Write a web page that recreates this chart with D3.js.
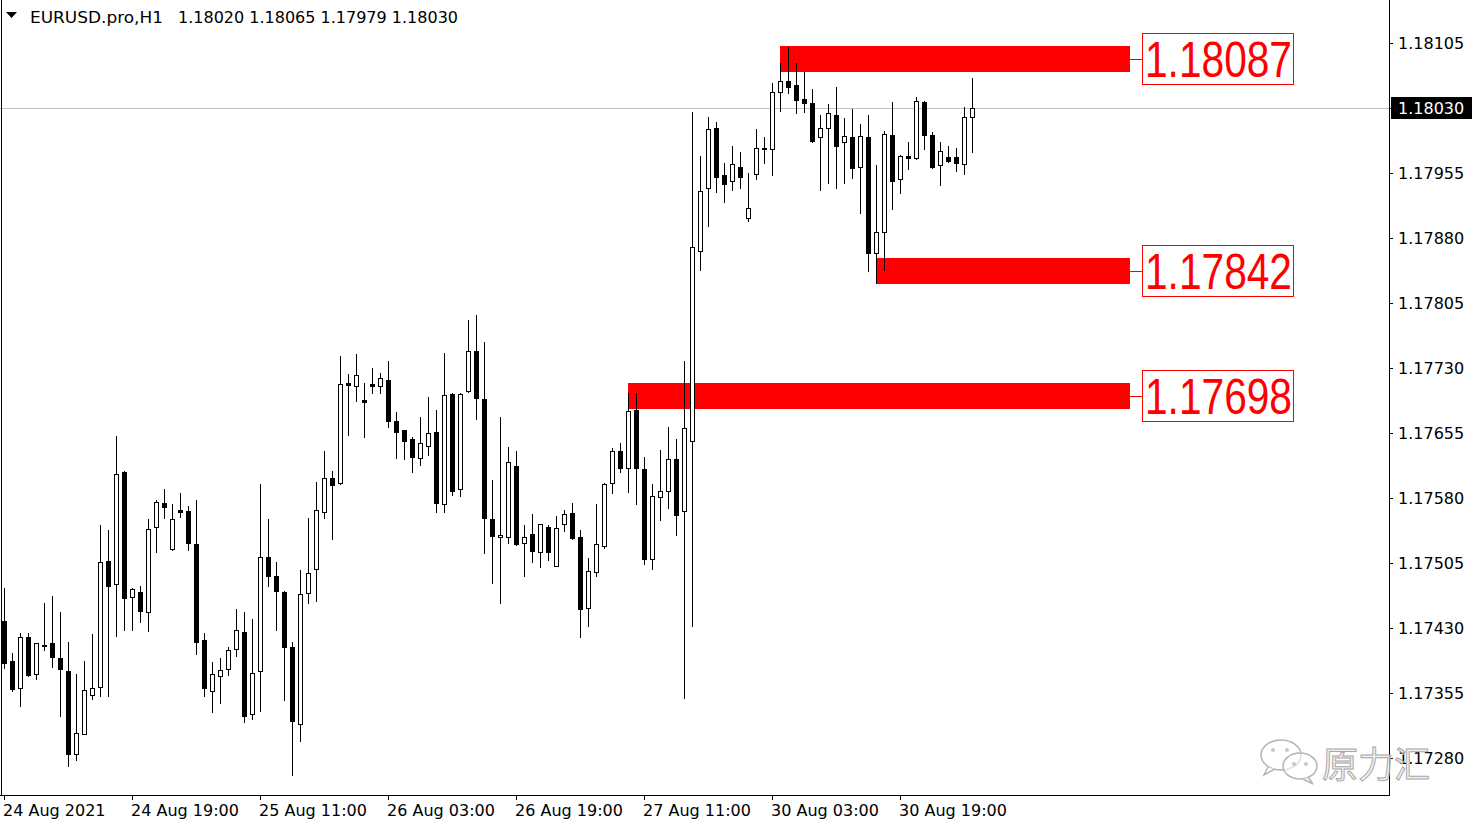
<!DOCTYPE html>
<html>
<head>
<meta charset="utf-8">
<title>EURUSD.pro,H1</title>
<script src="https://cdnjs.cloudflare.com/ajax/libs/d3/7.8.5/d3.min.js"></script>
<style>
  body { margin: 0; background: #fff; }
  svg { display: block; }
  text { font-family: "DejaVu Sans", Verdana, sans-serif; }
</style>
</head>
<body>
<svg id="chart" width="1481" height="827"></svg>
<script>
// EURUSD H1 candles, 24 Aug 03:00 -> 31 Aug 04:00 (122 bars)
var opens = [1.17438,1.17392,1.17361,1.17420,1.17377,1.17409,1.17413,1.17395,1.17380,1.17285,
  1.17308,1.17353,1.17362,1.17507,1.17481,1.17610,1.17466,1.17472,1.17448,1.17547,
  1.17574,1.17521,1.17566,1.17565,1.17527,1.17416,1.17357,1.17375,1.17383,1.17406,
  1.17425,1.17331,1.17380,1.17512,1.17490,1.17472,1.17408,1.17319,1.17470,1.17498,
  1.17564,1.17603,1.17597,1.17713,1.17709,1.17693,1.17711,1.17709,1.17716,1.17669,
  1.17658,1.17648,1.17626,1.17640,1.17656,1.17573,1.17700,1.17590,1.17703,1.17750,
  1.17694,1.17556,1.17535,1.17535,1.17617,1.17528,1.17538,1.17518,1.17547,1.17502,
  1.17550,1.17563,1.17535,1.17453,1.17495,1.17525,1.17597,1.17634,1.17615,1.17681,
  1.17613,1.17510,1.17581,1.17588,1.17625,1.17565,1.17646,1.17865,1.17938,1.18007,
  1.17953,1.17946,1.17962,1.17903,1.17954,1.17983,1.17983,1.18048,1.18061,1.18056,
  1.18040,1.18036,1.17997,1.18007,1.18022,1.17991,1.17997,1.17962,1.17997,1.17863,
  1.17887,1.17999,1.17948,1.17975,1.17972,1.18037,1.17999,1.17964,1.17973,1.17973,
  1.17965,1.18020];
var highs = [1.17476,1.17401,1.17424,1.17424,1.17413,1.17459,1.17467,1.17448,1.17414,1.17377,
  1.17392,1.17423,1.17549,1.17543,1.17652,1.17611,1.17476,1.17478,1.17556,1.17578,
  1.17590,1.17573,1.17586,1.17571,1.17578,1.17424,1.17391,1.17395,1.17408,1.17452,
  1.17448,1.17440,1.17596,1.17556,1.17506,1.17473,1.17414,1.17497,1.17557,1.17598,
  1.17634,1.17611,1.17744,1.17723,1.17746,1.17713,1.17730,1.17724,1.17738,1.17679,
  1.17659,1.17650,1.17673,1.17697,1.17682,1.17747,1.17701,1.17701,1.17785,1.17791,
  1.17760,1.17601,1.17673,1.17639,1.17634,1.17549,1.17562,1.17550,1.17549,1.17559,
  1.17566,1.17574,1.17543,1.17511,1.17573,1.17597,1.17638,1.17643,1.17701,1.17701,
  1.17627,1.17596,1.17635,1.17662,1.17648,1.17738,1.18025,1.17975,1.18020,1.18014,
  1.17967,1.17986,1.17979,1.17955,1.18006,1.17997,1.18059,1.18082,1.18100,1.18082,
  1.18072,1.18052,1.18022,1.18035,1.18054,1.18018,1.18029,1.18012,1.18022,1.17964,
  1.18003,1.18037,1.17976,1.17991,1.18043,1.18038,1.18002,1.17991,1.17986,1.17984,
  1.18031,1.18065];
var lows = [1.17384,1.17357,1.17340,1.17375,1.17371,1.17405,1.17385,1.17328,1.17271,1.17278,
  1.17308,1.17348,1.17352,1.17352,1.17421,1.17428,1.17428,1.17437,1.17427,1.17518,
  1.17557,1.17520,1.17558,1.17520,1.17400,1.17352,1.17333,1.17343,1.17376,1.17398,
  1.17322,1.17325,1.17334,1.17478,1.17428,1.17347,1.17260,1.17300,1.17459,1.17461,
  1.17557,1.17533,1.17596,1.17653,1.17692,1.17650,1.17701,1.17701,1.17662,1.17626,
  1.17625,1.17610,1.17618,1.17630,1.17564,1.17564,1.17583,1.17582,1.17702,1.17671,
  1.17517,1.17482,1.17459,1.17528,1.17526,1.17490,1.17506,1.17500,1.17508,1.17501,
  1.17542,1.17533,1.17420,1.17432,1.17490,1.17522,1.17586,1.17610,1.17587,1.17573,
  1.17504,1.17498,1.17555,1.17568,1.17537,1.17349,1.17432,1.17843,1.17894,1.17933,
  1.17922,1.17935,1.17938,1.17900,1.17948,1.17967,1.17953,1.18027,1.18047,1.18024,
  1.18025,1.17991,1.17935,1.17943,1.17938,1.17943,1.17949,1.17909,1.17842,1.17828,
  1.17843,1.17913,1.17932,1.17960,1.17971,1.17983,1.17961,1.17941,1.17968,1.17957,
  1.17954,1.17979];
var closes = [1.17390,1.17360,1.17420,1.17376,1.17413,1.17410,1.17396,1.17383,1.17285,1.17309,
  1.17358,1.17361,1.17506,1.17478,1.17608,1.17465,1.17475,1.17450,1.17544,1.17575,
  1.17570,1.17556,1.17564,1.17528,1.17414,1.17361,1.17377,1.17382,1.17405,1.17428,
  1.17328,1.17378,1.17512,1.17490,1.17473,1.17408,1.17323,1.17469,1.17493,1.17566,
  1.17603,1.17595,1.17711,1.17710,1.17722,1.17691,1.17709,1.17718,1.17669,1.17656,
  1.17646,1.17627,1.17643,1.17655,1.17574,1.17699,1.17588,1.17700,1.17750,1.17695,
  1.17557,1.17536,1.17537,1.17622,1.17527,1.17535,1.17519,1.17550,1.17518,1.17545,
  1.17562,1.17534,1.17452,1.17496,1.17527,1.17596,1.17634,1.17615,1.17680,1.17615,
  1.17510,1.17582,1.17588,1.17625,1.17560,1.17661,1.17870,1.17934,1.18006,1.17950,
  1.17942,1.17965,1.17950,1.17915,1.17984,1.17984,1.18048,1.18061,1.18054,1.18039,
  1.18036,1.17992,1.18007,1.18024,1.17986,1.17998,1.17961,1.17998,1.17863,1.17887,
  1.18000,1.17946,1.17975,1.17972,1.18038,1.17999,1.17962,1.17980,1.17969,1.17967,
  1.18020,1.18030];

var priceTicks = [1.18105,1.18030,1.17955,1.17880,1.17805,1.17730,1.17655,1.17580,1.17505,1.17430,1.17355,1.17280];
var timeTickBars = [0, 16, 32, 48, 64, 80, 96, 112];
var timeTickLabels = ["24 Aug 2021","24 Aug 19:00","25 Aug 11:00","26 Aug 03:00",
                      "26 Aug 19:00","27 Aug 11:00","30 Aug 03:00","30 Aug 19:00"];

// horizontal levels drawn on the chart
var levelPrices = [1.18087, 1.17842, 1.17698];
var levelStartBars = [97, 109, 78];

var symbol = "EURUSD.pro,H1";
var last = opens.length - 1;
var bidPrice = closes[last];

var svg = d3.select("#chart");
var plotRight = 1389, plotBottom = 795;

var x = d3.scaleLinear().domain([0, last]).range([4, 972]);
var y = d3.scaleLinear().domain([1.17280, 1.18105]).range([758, 43]);
var py = p => Math.round(y(p));
var px = i => Math.round(x(i));

var bars = d3.range(opens.length).map(i => ({i: i, o: opens[i], h: highs[i], l: lows[i], c: closes[i]}));

// current price line
svg.append("line")
  .attr("x1", 0).attr("x2", plotRight)
  .attr("y1", py(bidPrice) + 0.5).attr("y2", py(bidPrice) + 0.5)
  .attr("stroke", "#c0c0c0").attr("shape-rendering", "crispEdges");

// level bands + labels
var levels = levelPrices.map((p, k) => ({p: p, b: levelStartBars[k]}));
var lv = svg.append("g").attr("shape-rendering", "crispEdges");
lv.selectAll("rect.band").data(levels).enter().append("rect")
  .attr("x", d => px(d.b))
  .attr("y", d => py(d.p) - 13)
  .attr("width", d => 1130 - px(d.b))
  .attr("height", 26)
  .attr("fill", "#ff0000");
lv.selectAll("line.tie").data(levels).enter().append("line")
  .attr("x1", 1130).attr("x2", 1142)
  .attr("y1", d => py(d.p) + 0.5).attr("y2", d => py(d.p) + 0.5)
  .attr("stroke", "#ff0000");
lv.selectAll("rect.box").data(levels).enter().append("rect")
  .attr("x", 1142.5).attr("y", d => py(d.p) - 25.5)
  .attr("width", 151).attr("height", 51)
  .attr("fill", "#fff").attr("stroke", "#ff0000");
svg.selectAll("text.lvl").data(levels).enter().append("text")
  .attr("x", 1145).attr("y", d => py(d.p) + 18)
  .attr("textLength", 147).attr("lengthAdjust", "spacingAndGlyphs")
  .style("font-family", "'Liberation Sans', Arial, sans-serif")
  .style("font-size", "50px")
  .attr("fill", "#ff0000")
  .text(d => d.p.toFixed(5));

// candles
var cg = svg.append("g").attr("shape-rendering", "crispEdges");
cg.selectAll("line.wick").data(bars).enter().append("line")
  .attr("x1", d => px(d.i) + 0.5).attr("x2", d => px(d.i) + 0.5)
  .attr("y1", d => py(d.h)).attr("y2", d => py(d.l) + 1)
  .attr("stroke", "#000");
cg.selectAll("rect.body").data(bars).enter().append("rect")
  .attr("x", d => px(d.i) - 1.5)
  .attr("y", d => py(Math.max(d.o, d.c)) + 0.5)
  .attr("width", 4)
  .attr("height", d => Math.max(1, py(Math.min(d.o, d.c)) - py(Math.max(d.o, d.c))))
  .attr("fill", d => d.c >= d.o ? "#fff" : "#000")
  .attr("stroke", "#000");

// frame
var fr = svg.append("g").attr("shape-rendering", "crispEdges").attr("stroke", "#000");
fr.append("line").attr("x1", plotRight + 0.5).attr("x2", plotRight + 0.5).attr("y1", 0).attr("y2", plotBottom + 1);
fr.append("line").attr("x1", 0).attr("x2", plotRight + 1).attr("y1", plotBottom + 0.5).attr("y2", plotBottom + 0.5);
fr.append("line").attr("x1", 1.5).attr("x2", 1.5).attr("y1", 0).attr("y2", plotBottom + 1);

// price axis
var ya = svg.append("g");
ya.selectAll("line").data(priceTicks).enter().append("line")
  .attr("x1", plotRight).attr("x2", plotRight + 4)
  .attr("y1", d => py(d) + 0.5).attr("y2", d => py(d) + 0.5)
  .attr("stroke", "#000").attr("shape-rendering", "crispEdges");
ya.selectAll("text").data(priceTicks).enter().append("text")
  .attr("x", 1398).attr("y", d => py(d) + 6)
  .style("font-size", "16px").attr("fill", "#000")
  .text(d => d.toFixed(5));

// bid price tag
svg.append("rect").attr("x", 1391).attr("y", py(bidPrice) - 11)
  .attr("width", 81).attr("height", 22).attr("fill", "#000");
svg.append("text").attr("x", 1398).attr("y", py(bidPrice) + 6)
  .style("font-size", "16px").attr("fill", "#fff").text(bidPrice.toFixed(5));

// time axis
var xa = svg.append("g");
xa.selectAll("line").data(timeTickBars).enter().append("line")
  .attr("x1", d => px(d) + 0.5).attr("x2", d => px(d) + 0.5)
  .attr("y1", plotBottom).attr("y2", plotBottom + 5)
  .attr("stroke", "#000").attr("shape-rendering", "crispEdges");
xa.selectAll("text").data(timeTickBars).enter().append("text")
  .attr("x", d => px(d) - 1).attr("y", 816)
  .style("font-size", "16px").attr("fill", "#000")
  .text((d, k) => timeTickLabels[k]);

// header
svg.append("path").attr("d", "M6,12 L17,12 L11.5,18 Z").attr("fill", "#000");
svg.append("text").attr("x", 30).attr("y", 23).style("font-size", "16px")
  .attr("textLength", 133).attr("lengthAdjust", "spacingAndGlyphs")
  .text(symbol);
svg.append("text").attr("x", 178).attr("y", 23).style("font-size", "16px")
  .attr("textLength", 280).attr("lengthAdjust", "spacingAndGlyphs")
  .text([opens[last], highs[last], lows[last], closes[last]].map(v => v.toFixed(5)).join(" "));

// watermark
var wm = svg.append("g").attr("fill", "rgba(255,255,255,0.6)").attr("stroke", "#b5b5b5").attr("stroke-width", 1.5);
wm.append("ellipse").attr("cx", 1281).attr("cy", 755).attr("rx", 20).attr("ry", 15);
wm.append("path").attr("d", "M1268,767 L1264,775 L1275,769");
wm.append("ellipse").attr("cx", 1300).attr("cy", 766).attr("rx", 17).attr("ry", 13);
wm.append("path").attr("d", "M1308,777 L1313,784 L1303,779");
[[1273, 750], [1287, 750], [1294, 764], [1306, 764]].forEach(function (e) {
  wm.append("circle").attr("cx", e[0]).attr("cy", e[1]).attr("r", 2).attr("fill", "#c8c8c8").attr("stroke", "none");
});
svg.append("text").attr("x", 1322).attr("y", 778)
  .style("font-family", "'Noto Sans CJK SC', sans-serif").style("font-size", "36px")
  .attr("fill", "rgba(235,235,235,0.7)").attr("stroke", "#a8a8a8").attr("stroke-width", 1)
  .text("原力汇");
</script>
</body>
</html>
